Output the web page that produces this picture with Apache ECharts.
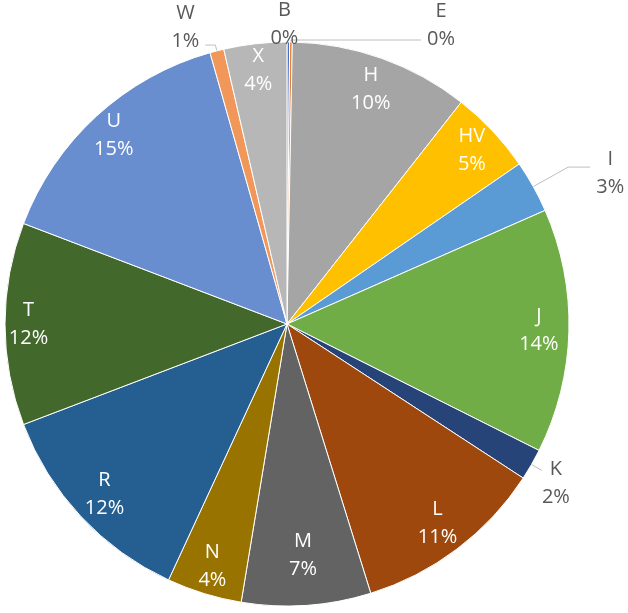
<!DOCTYPE html>
<html><head><meta charset="utf-8">
<script src="https://cdn.jsdelivr.net/npm/echarts@6/dist/echarts.min.js"></script>
<style>html,body{margin:0;padding:0;background:#fff}#c{width:628px;height:613px}</style>
</head><body><div id="c"></div>
<script>
// ---- data ----
const categories = ['B','E','H','HV','I','J','K','L','M','N','R','T','U','W','X'];
const shares = [0.15,0.15,10.3,4.8,3.0,14.0,1.8,11.0,7.4,4.3,12.3,11.6,14.8,0.8,3.6];
const sliceColors = ['#4472C4','#ED7D31','#A5A5A5','#FFC000','#5B9BD5','#70AD47','#264478','#9E480E','#636363','#997300','#255E91','#43682B','#698ED0','#F1975A','#B7B7B7'];
const outsideNames = ['B','E','I','K','W'];

// ---- layout / style tuning ----
const CX = 287, CY = 324, R = 282;
const outsideCfg = {
  B: { length: 18, length2: 0, line: false, dx: -24, dy: 0 },
  E: { length: 2, length2: 130, line: true, dx: 0, dy: -15 },
  I: { length: 40, length2: 22, line: true, dx: 0, dy: 6 },
  K: { length: 12, length2: 0, line: true, dx: -6, dy: 13 },
  W: { length: 6, length2: 10, line: true, dx: 0, dy: -18 }
};
const insideInset = { M: 24, J: 6, U: -7, H: 2 };   // extra inward margin for some inner labels
const EDGE_MARGIN = 3;

const FONT = '"Open Sans", "Liberation Sans", sans-serif';
const FS = 20, LH = 28;
const pct = v => Math.round(v) + '%';

const mainData = categories.map((n, i) => {
  const d = { name: n, value: shares[i], itemStyle: { color: sliceColors[i] } };
  if (outsideCfg[n]) {
    const c = outsideCfg[n];
    d.label = { show: true };
    d.labelLine = { show: c.line, length: c.length, length2: c.length2 };
  }
  return d;
});

const overlayData = categories.map((n, i) => ({
  name: n, value: shares[i],
  label: { show: outsideNames.indexOf(n) < 0 }
}));

const chart = echarts.init(document.getElementById('c'), null, { renderer: 'canvas' });
chart.setOption({
  backgroundColor: '#ffffff',
  animation: false,
  series: [
    {
      type: 'pie',
      center: [CX, CY],
      radius: [0, R],
      startAngle: 90,
      clockwise: true,
      avoidLabelOverlap: false,
      silent: true,
      itemStyle: { borderColor: '#ffffff', borderWidth: 1 },
      label: {
        show: false,
        position: 'outside',
        formatter: p => '{o|' + p.name + '}\n{o|' + pct(p.value) + '}',
        rich: {
          o: { width: 30, align: 'center', color: '#595959', fontSize: FS, lineHeight: LH, fontFamily: FONT }
        }
      },
      labelLine: { lineStyle: { color: '#bfbfbf', width: 1 }, smooth: false },
      labelLayout: function (p) {
        const c = outsideCfg[categories[p.dataIndex]];
        return c ? { dx: c.dx, dy: c.dy } : {};
      },
      data: mainData
    },
    {
      type: 'pie',
      center: [CX, CY],
      radius: [R * 0.8, R],
      startAngle: 90,
      clockwise: true,
      silent: true,
      avoidLabelOverlap: false,
      itemStyle: { color: 'rgba(0,0,0,0)', borderWidth: 0 },
      label: {
        show: true,
        position: 'inside',
        color: '#ffffff',
        fontSize: FS,
        lineHeight: LH,
        fontFamily: FONT,
        formatter: p => p.name + '\n' + pct(p.value)
      },
      labelLine: { show: false },
      labelLayout: function (p) {
        // move each inner label along its radius until its glyph box sits just inside the rim
        const r = p.labelRect;
        const lx = r.x + r.width / 2, ly = r.y + r.height / 2;
        const vx = lx - CX, vy = ly - CY;
        const d = Math.sqrt(vx * vx + vy * vy) || 1;
        const ux = vx / d, uy = vy / d;
        const hw = r.width / 2, hh = (r.height - 12) / 2;
        const b = Math.abs(ux) * hw + Math.abs(uy) * hh;
        const c = hw * hw + hh * hh;
        const rr = R - EDGE_MARGIN;
        const inset = insideInset[categories[p.dataIndex]] || 0;
        const target = -b + Math.sqrt(b * b - c + rr * rr) - inset;
        return { dx: ux * (target - d), dy: uy * (target - d) };
      },
      emphasis: { disabled: true },
      data: overlayData
    }
  ]
});
</script>
</body></html>
